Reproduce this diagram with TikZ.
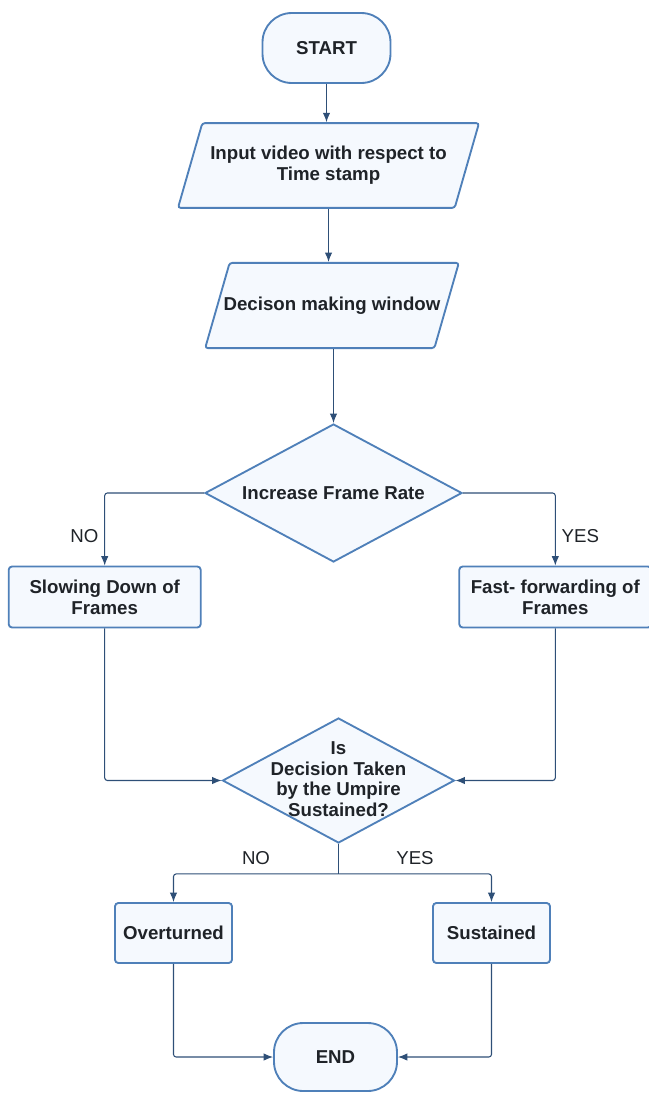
\documentclass[tikz,border=0pt]{standalone}
\usepackage{fontspec}
\setmainfont{Liberation Sans}
\usepackage{tikz}
\usepackage{xcolor}
\usetikzlibrary{arrows.meta, positioning, shapes.geometric, calc}
\definecolor{edgeBlue}{HTML}{4F80B9}
\definecolor{fillBlue}{HTML}{F5F9FE}
\definecolor{lineBlue}{HTML}{2E4F77}
\definecolor{txtDark}{HTML}{1F2328}
\tikzset{
    baseNode/.style={draw=edgeBlue, fill=fillBlue, line width=1.4pt, text=txtDark, inner sep=0pt,
        font=\bfseries\fontsize{14}{15.5}\selectfont, align=center},
    termNode/.style={baseNode, rectangle, rounded corners=22pt},
    ioNode/.style={baseNode, trapezium, trapezium left angle=74, trapezium right angle=106,
        trapezium stretches body=true, rounded corners=2pt},
    procNode/.style={baseNode, rectangle, rounded corners=2.5pt},
    decNode/.style={baseNode, diamond},
    txtNode/.style={text=txtDark, font=\bfseries\fontsize{14}{15.5}\selectfont, align=center},
    yesNo/.style={text=txtDark, font=\fontsize{14}{16}\selectfont},
    flowArrow/.style={->, draw=lineBlue, line width=0.8pt, rounded corners=2pt}
}

\begin{document}
\begin{tikzpicture}[x=0.75pt, y=-0.75pt, >={Latex[length=7pt, width=5.5pt]}]
    \useasboundingbox (0,0) rectangle (649,1093);
    % --- Main column ---
    \node[termNode, minimum width=96pt, minimum height=52.5pt] (start) at (326.5,48) {START};
    \node[ioNode, inner ysep=17.5pt, minimum width=225.75pt] (inVid) at (328.5,165.5)
        {Input video with respect to\\Time stamp};
    \node[ioNode, inner ysep=25.4pt, inner xsep=-4.5pt, minimum width=181.5pt] (decWin) at (332,305.5)
        {Decison making window};
    \node[decNode, minimum width=192.75pt, minimum height=103.5pt] (frRate) at (333.5,493) {};
    \node[txtNode] at (frRate) {Increase Frame Rate};
    % --- Branches ---
    \node[procNode, minimum width=144pt, minimum height=45.75pt] (slowDn) at (104.7,597)
        {Slowing Down of\\Frames};
    \node[procNode, minimum width=144pt, minimum height=45.75pt] (fastFw) at (555.3,597)
        {Fast- forwarding of\\Frames};
    \node[decNode, minimum width=174pt, minimum height=93.75pt] (umpDec) at (338.5,780.5) {};
    \node[txtNode, yshift=1pt] at (umpDec) {Is\\Decision Taken\\by the Umpire\\Sustained?};
    \coordinate (split) at ($(umpDec.south)+(0,30)$);
    % --- Outcomes ---
    \node[procNode, minimum width=87.75pt, minimum height=45pt] (overT) at (173.5,933) {Overturned};
    \node[procNode, minimum width=87.75pt, minimum height=45pt] (sustN) at (491.5,933) {Sustained};
    \node[termNode, minimum width=92.25pt, minimum height=51pt] (endN) at (335.5,1057) {END};
    % --- Connectors ---
    \draw[flowArrow] (start) -- (start |- inVid.north);
    \draw[flowArrow] (inVid.south) -- (inVid.south |- decWin.north);
    \draw[flowArrow] (decWin.south -| frRate.north) -- (frRate.north);
    \draw[flowArrow] (frRate.west) -| (slowDn.north) node[yesNo, pos=0.8, left=1pt] {NO};
    \draw[flowArrow] (frRate.east) -| (fastFw.north) node[yesNo, pos=0.8, right=1pt] {YES};
    \draw[flowArrow] (slowDn.south) |- (umpDec.west);
    \draw[flowArrow] (fastFw.south) |- (umpDec.east);
    \draw[flowArrow, -] (umpDec.south) -- (split);
    \draw[flowArrow] (split) -| (overT.north) node[yesNo, pos=0.25, above=3pt] {NO};
    \draw[flowArrow] (split) -| (sustN.north) node[yesNo, pos=0.25, above=3pt] {YES};
    \draw[flowArrow] (overT.south) |- (endN.west);
    \draw[flowArrow] (sustN.south) |- (endN.east);
\end{tikzpicture}
\end{document}
